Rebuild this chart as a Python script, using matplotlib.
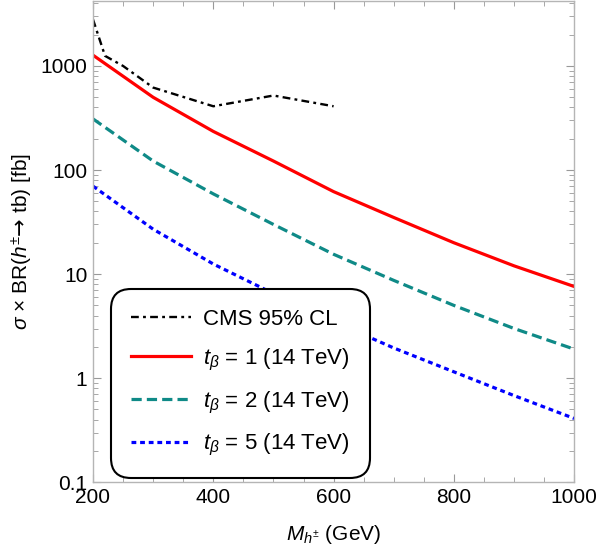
import numpy as np
import matplotlib
matplotlib.use("Agg")
import matplotlib.pyplot as plt
from matplotlib.ticker import MultipleLocator, FixedLocator, LogLocator, NullFormatter

plt.rcParams['font.family'] = ['Liberation Sans', 'DejaVu Sans']
plt.rcParams['mathtext.fontset'] = 'custom'
plt.rcParams['mathtext.rm'] = 'Liberation Sans'
plt.rcParams['mathtext.it'] = 'Liberation Sans:italic'
plt.rcParams['mathtext.bf'] = 'Liberation Sans:bold'
plt.rcParams['mathtext.sf'] = 'DejaVu Sans'

# Dados
massa_cms = [200, 220, 250, 300, 400, 500, 600]
limite_cms = [2800, 1250, 1000, 620, 410, 520, 410]

massa = [200, 300, 400, 500, 600, 700, 800, 900, 1000]
sigma_tb1 = [1270, 500, 235, 122, 62, 35, 20, 12, 7.6]
sigma_tb2 = [310, 122, 59, 30, 15.5, 8.7, 5.0, 3.0, 1.9]
sigma_tb5 = [70, 27, 12.5, 6.5, 3.5, 1.95, 1.15, 0.68, 0.41]

rotulos = ['CMS 95% CL',
           r'$t_\beta$ = 1 (14 TeV)',
           r'$t_\beta$ = 2 (14 TeV)',
           r'$t_\beta$ = 5 (14 TeV)']

fig = plt.figure(figsize=(6.0, 5.53), dpi=100)
ax = fig.add_axes([0.155, 0.128, 0.802, 0.870])

ax.plot(massa_cms, limite_cms, color='black', lw=1.7,
        linestyle=(0, (3.3, 1.8, 1.2, 1.8)), label=rotulos[0])
ax.plot(massa, sigma_tb1, color='#ff0000', lw=2.3, label=rotulos[1])
ax.plot(massa, sigma_tb2, color='#0f8a87', lw=2.3,
        linestyle=(0, (3.2, 1.6)), label=rotulos[2])
ax.plot(massa, sigma_tb5, color='#0000ff', lw=2.3,
        linestyle=(0, (1.5, 1.2)), label=rotulos[3])

ax.set_yscale('log')
ax.set_xlim(200, 1000)
ax.set_ylim(0.1, 4200)

ax.xaxis.set_major_locator(FixedLocator([200, 400, 600, 800, 1000]))
ax.xaxis.set_minor_locator(MultipleLocator(50))
ax.yaxis.set_major_locator(FixedLocator([0.1, 1, 10, 100, 1000]))
ax.yaxis.set_minor_locator(LogLocator(base=10, subs=np.arange(2, 10)))
ax.yaxis.set_minor_formatter(NullFormatter())
ax.set_yticklabels(['0.1', '1', '10', '100', '1000'])

cinza = '#b5b5b5'
for lado in ax.spines.values():
    lado.set_color(cinza)
    lado.set_linewidth(1.0)
ax.tick_params(which='both', direction='in', top=True, right=True,
               color='#999999', labelsize=15, labelcolor='black')
ax.tick_params(which='major', length=6, width=0.8, pad=4)
ax.tick_params(which='minor', length=3.5, width=0.6)

ax.set_xlabel(r'$M_{h^{\pm}}$ (GeV)', fontsize=15, labelpad=12)
ax.set_ylabel(r'$\sigma$ × BR($h^{\pm}\mathsf{\u2192}$ tb) [fb]'.replace('\\u2192', '\u2192'),
              fontsize=15, labelpad=4)

leg = ax.legend(loc='lower left', bbox_to_anchor=(0.037, 0.008),
                borderaxespad=0, fontsize=16, handlelength=2.7,
                handletextpad=0.55, labelspacing=0.75, borderpad=0.9,
                fancybox=True, framealpha=1, edgecolor='black')
leg.get_frame().set_linewidth(1.5)
leg.get_frame().set_boxstyle('round', pad=0.0, rounding_size=0.9)

fig.savefig('out.png', dpi=100)
